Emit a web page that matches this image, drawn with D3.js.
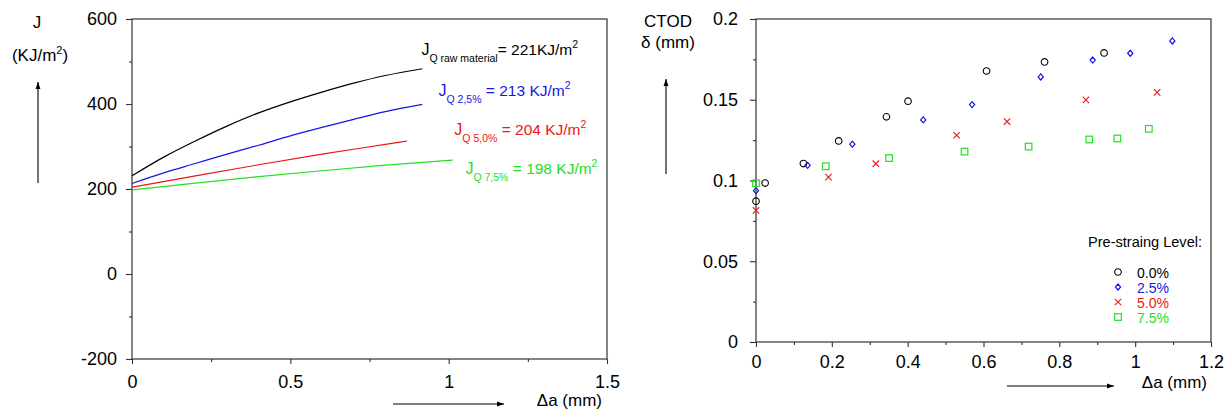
<!DOCTYPE html>
<html>
<head>
<meta charset="utf-8">
<script src="https://cdn.jsdelivr.net/npm/d3@7"></script>
<style>
  body { margin: 0; background: #fff; }
  svg { display: block; font-family: "Liberation Sans", Arial, sans-serif; }
  text { white-space: pre; }
</style>
</head>
<body>
<svg id="chart" width="1225" height="411"></svg>
<script>
// ---- left panel: J-R curves (crack extension in mm, J in KJ/m2)
const daRaw = [0, 0.1, 0.2, 0.3, 0.4, 0.5, 0.6, 0.7, 0.8, 0.917];
const jRaw  = [231, 275, 313, 348, 379, 405, 428, 449, 467, 483];
const da25  = [0, 0.1, 0.2, 0.3, 0.4, 0.5, 0.6, 0.7, 0.8, 0.917];
const j25   = [213, 238, 260, 282, 303, 325, 345, 364, 382, 399];
const da50  = [0, 0.2, 0.4, 0.6, 0.8, 0.869];
const j50   = [204, 231, 257, 282, 305, 313];
const da75  = [0, 0.2, 0.4, 0.6, 0.8, 1.012];
const j75   = [198, 214, 229, 243, 256, 268];

const curveColors = ["#000", "#1515e8", "#ee1515", "#22e022"];
const curveSubs   = ["Q raw material", "Q 2,5%", "Q 5,0%", "Q 7,5%"];
const curveRest   = ["= 221KJ/m", " = 213 KJ/m", " = 204 KJ/m", " = 198 KJ/m"];
// label anchors in data units [da, J]
const labelAt     = [[0.914, 515], [0.968, 419], [1.018, 327], [1.053, 235]];

// ---- right panel: CTOD vs crack extension
const levels = ["0.0%", "2.5%", "5.0%", "7.5%"];
const ctodDa = [
  [0, 0.024, 0.125, 0.218, 0.344, 0.401, 0.608, 0.761, 0.918],
  [0, 0.136, 0.254, 0.441, 0.570, 0.751, 0.888, 0.987, 1.098],
  [0, 0.191, 0.316, 0.529, 0.662, 0.870, 1.058],
  [0, 0.184, 0.351, 0.550, 0.719, 0.879, 0.953, 1.036]
];
const ctodVal = [
  [0.0872, 0.0984, 0.1105, 0.1245, 0.1394, 0.1491, 0.1678, 0.1734, 0.1790],
  [0.0937, 0.1094, 0.1225, 0.1375, 0.1470, 0.1641, 0.1746, 0.1788, 0.1864],
  [0.0815, 0.1021, 0.1104, 0.1280, 0.1365, 0.1499, 0.1546],
  [0.0983, 0.1088, 0.1139, 0.1179, 0.1210, 0.1254, 0.1260, 0.1320]
];
const markerTypes = ["circle", "diamond", "cross", "square"];

const svg = d3.select("#chart");
const axisColor = "#333";

// arrow head
svg.append("defs").append("marker")
  .attr("id", "arrow")
  .attr("viewBox", "0 0 10 10")
  .attr("refX", 10).attr("refY", 5)
  .attr("markerWidth", 9).attr("markerHeight", 7)
  .attr("markerUnits", "userSpaceOnUse")
  .attr("orient", "auto")
  .append("path")
  .attr("d", "M0,1.5L10,5L0,8.5Z")
  .attr("fill", "#000");

// scales
const xL = d3.scaleLinear().domain([0, 1.5]).range([132, 607]);
const yL = d3.scaleLinear().domain([-200, 600]).range([359, 19]);
const xR = d3.scaleLinear().domain([0, 1.2]).range([756, 1211]);
const yR = d3.scaleLinear().domain([0, 0.2]).range([342, 19]);

function drawFrame(x, y, opts) {
  const [x0, x1] = x.range(), [y0, y1] = y.range();
  const g = svg.append("g");

  // minor ticks
  g.append("g").attr("transform", `translate(0,${y0})`)
    .call(d3.axisBottom(x).tickValues(opts.xMinor).tickSize(3).tickFormat(""))
    .call(a => a.select(".domain").remove());
  g.append("g").attr("transform", `translate(${x0},0)`)
    .call(d3.axisLeft(y).tickValues(opts.yMinor).tickSize(3).tickFormat(""))
    .call(a => a.select(".domain").remove());

  // major ticks + labels
  const xa = g.append("g").attr("transform", `translate(0,${y0})`)
    .call(d3.axisBottom(x).tickValues(opts.xTicks).tickSize(5)
      .tickPadding(opts.xPad).tickFormat(d => d));
  xa.select(".domain").remove();
  const ya = g.append("g").attr("transform", `translate(${x0},0)`)
    .call(d3.axisLeft(y).tickValues(opts.yTicks).tickSize(6)
      .tickPadding(opts.yPad).tickFormat(d => d));
  ya.select(".domain").remove();

  g.selectAll(".tick line").attr("stroke", axisColor).attr("stroke-width", 1.1);
  g.selectAll(".tick text")
    .attr("font-size", 18)
    .attr("font-family", "'Liberation Sans', Arial, sans-serif")
    .attr("fill", "#000");

  g.append("rect")
    .attr("x", x0).attr("y", y1)
    .attr("width", x1 - x0).attr("height", y0 - y1)
    .attr("fill", "none")
    .attr("stroke", axisColor)
    .attr("stroke-width", 1.2);
}

function arrow(x1, y1, x2, y2) {
  svg.append("line")
    .attr("x1", x1).attr("y1", y1).attr("x2", x2).attr("y2", y2)
    .attr("stroke", "#000").attr("stroke-width", 1.1)
    .attr("marker-end", "url(#arrow)");
}

// ---------- left panel
drawFrame(xL, yL, {
  xTicks: [0, 0.5, 1, 1.5], xMinor: [0.25, 0.75, 1.25], xPad: 11,
  yTicks: [-200, 0, 200, 400, 600], yMinor: [-100, 100, 300, 500], yPad: 9
});

const series = [[daRaw, jRaw], [da25, j25], [da50, j50], [da75, j75]];
const line = d3.line()
  .x(d => xL(d[0]))
  .y(d => yL(d[1]))
  .curve(d3.curveMonotoneX);

series.forEach(([xs, ys], i) => {
  svg.append("path")
    .datum(xs.map((v, k) => [v, ys[k]]))
    .attr("d", line)
    .attr("fill", "none")
    .attr("stroke", curveColors[i])
    .attr("stroke-width", 1.2);

  const t = svg.append("text")
    .attr("x", xL(labelAt[i][0]))
    .attr("y", yL(labelAt[i][1]))
    .attr("fill", curveColors[i])
    .attr("font-size", 16);
  t.append("tspan").text("J");
  t.append("tspan").attr("font-size", 10.5).attr("dy", 7).text(curveSubs[i]);
  t.append("tspan").attr("font-size", 15.5).attr("dy", -7).text(curveRest[i]);
  t.append("tspan").attr("font-size", 10.5).attr("dy", -7).text("2");
});

// left axis titles
svg.append("text").attr("x", 37).attr("y", 28).attr("text-anchor", "middle")
  .attr("font-size", 17).text("J");
const kj = svg.append("text").attr("x", 40).attr("y", 61).attr("text-anchor", "middle")
  .attr("font-size", 17);
kj.append("tspan").text("(KJ/m");
kj.append("tspan").attr("font-size", 11).attr("dy", -7).text("2");
kj.append("tspan").attr("dy", 7).text(")");
arrow(38, 183, 38, 82);
svg.append("text").attr("x", 602).attr("y", 406).attr("text-anchor", "end")
  .attr("font-size", 17).text("\u0394a (mm)");
arrow(393, 404, 504, 404);

// ---------- right panel
drawFrame(xR, yR, {
  xTicks: [0, 0.2, 0.4, 0.6, 0.8, 1, 1.2], xMinor: [0.1, 0.3, 0.5, 0.7, 0.9, 1.1], xPad: 8,
  yTicks: [0, 0.05, 0.1, 0.15, 0.2], yMinor: [0.025, 0.075, 0.125, 0.175], yPad: 12
});

function drawMarker(sel, type, color) {
  if (type === "circle") {
    sel.append("circle").attr("r", 3.3)
      .attr("fill", "none").attr("stroke", color).attr("stroke-width", 1.1);
  } else if (type === "diamond") {
    sel.append("path").attr("d", "M0,-3L2.6,0L0,3L-2.6,0Z")
      .attr("fill", "none").attr("stroke", color).attr("stroke-width", 1.2);
  } else if (type === "cross") {
    sel.append("path").attr("d", "M-3.2,-3.2L3.2,3.2M-3.2,3.2L3.2,-3.2")
      .attr("fill", "none").attr("stroke", color).attr("stroke-width", 1.1);
  } else {
    sel.append("rect").attr("x", -3.3).attr("y", -3.3).attr("width", 6.6).attr("height", 6.6)
      .attr("fill", "none").attr("stroke", color).attr("stroke-width", 1.2);
  }
}

ctodDa.forEach((xs, i) => {
  const pts = xs.map((v, k) => [v, ctodVal[i][k]]);
  svg.append("g").selectAll("g")
    .data(pts).enter()
    .append("g")
    .attr("transform", d => `translate(${xR(d[0])},${yR(d[1])})`)
    .each(function () { drawMarker(d3.select(this), markerTypes[i], curveColors[i]); });
});

// legend
svg.append("text").attr("x", 1088).attr("y", 247)
  .attr("font-size", 15).attr("textLength", 114).attr("lengthAdjust", "spacingAndGlyphs")
  .text("Pre-straing Level:");
levels.forEach((lv, i) => {
  const yy = 272 + i * 15;
  drawMarker(svg.append("g").attr("transform", `translate(1118,${yy})`), markerTypes[i], curveColors[i]);
  svg.append("text").attr("x", 1137).attr("y", yy + 5.5)
    .attr("font-size", 15).attr("fill", curveColors[i])
    .attr("textLength", 32).attr("lengthAdjust", "spacingAndGlyphs")
    .text(lv);
});

// right axis titles
svg.append("text").attr("x", 668).attr("y", 27).attr("text-anchor", "middle")
  .attr("font-size", 17).text("CTOD");
svg.append("text").attr("x", 668).attr("y", 48).attr("text-anchor", "middle")
  .attr("font-size", 17).text("\u03b4 (mm)");
arrow(666, 174, 666, 79);
svg.append("text").attr("x", 1207).attr("y", 388).attr("text-anchor", "end")
  .attr("font-size", 17).text("\u0394a (mm)");
arrow(1007, 386, 1114, 386);
</script>
</body>
</html>
